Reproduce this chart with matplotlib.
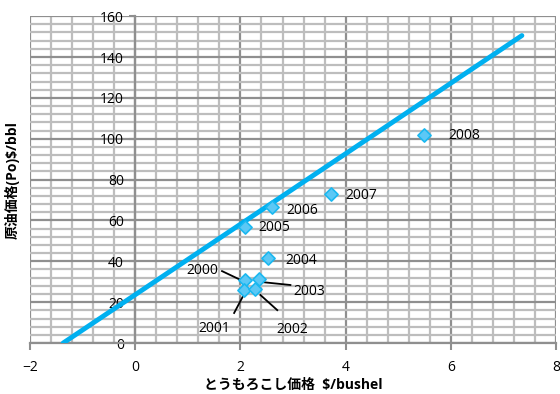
import matplotlib.pyplot as plt
from matplotlib.ticker import MultipleLocator

plt.rcParams['font.family'] = ['Open Sans', 'Noto Sans CJK JP', 'DejaVu Sans']

# Data
years = ['2000', '2001', '2002', '2003', '2004', '2005', '2006', '2007', '2008']
corn = [2.09, 2.07, 2.28, 2.36, 2.53, 2.09, 2.60, 3.73, 5.48]
oil = [31.0, 26.0, 26.5, 31.5, 41.6, 56.8, 66.5, 72.9, 101.8]
fit_x = [-1.37, 7.35]
fit_y = [0.0, 150.5]

# label placement: text x, text y, horizontal alignment
label_pos = {
    '2000': (1.58, 35.5, 'right'), '2001': (1.50, 7.0, 'center'),
    '2002': (2.98, 6.4, 'center'), '2003': (3.00, 25.0, 'left'),
    '2004': (2.85, 40.5, 'left'), '2005': (2.35, 56.5, 'left'),
    '2006': (2.87, 65.0, 'left'), '2007': (4.00, 72.0, 'left'),
    '2008': (5.95, 101.5, 'left'),
}
# leader lines (start near label, end near point)
leaders = {
    '2000': ([1.65, 2.05], [35.2, 30.3]),
    '2001': ([1.88, 2.04], [14.7, 22.5]),
    '2002': ([2.70, 2.38], [16.1, 23.5]),
    '2003': ([2.95, 2.42], [28.4, 29.8]),
}

fig = plt.figure(figsize=(5.6, 3.94), dpi=100)
ax = fig.add_axes([0.0536, 0.1294, 0.9394, 0.8296])

ax.set_xlim(-2, 8)
ax.set_ylim(0, 160)
ax.xaxis.set_major_locator(MultipleLocator(2))
ax.xaxis.set_minor_locator(MultipleLocator(0.4))
ax.yaxis.set_major_locator(MultipleLocator(20))
ax.yaxis.set_minor_locator(MultipleLocator(4))
ax.grid(which='minor', color='#bdbdbd', lw=1.6)
ax.grid(which='major', color='#8f8f8f', lw=1.6)
ax.set_axisbelow(True)

for s in ['top', 'right']:
    ax.spines[s].set_visible(False)
ax.spines['left'].set_position(('data', 0))
for s in ['left', 'bottom']:
    ax.spines[s].set_color('#8f8f8f')
    ax.spines[s].set_linewidth(1.6)
ax.tick_params(axis='x', which='major', length=5, width=1.5, color='#8f8f8f',
               pad=7, labelsize=10)
ax.tick_params(axis='y', which='major', length=4, width=1.5, color='#8f8f8f',
               pad=4, labelsize=10)
ax.tick_params(which='minor', length=0)

ax.plot(fit_x, fit_y, color='#00b0f0', lw=3.5, solid_capstyle='round', zorder=3)
ax.scatter(corn, oil, marker='D', s=45, facecolor='#5cc8f5', edgecolor='#1ab8f0',
           linewidth=1.2, zorder=4)

for yr in leaders:
    lx, ly = leaders[yr]
    ax.plot(lx, ly, color='black', lw=1.3, zorder=3.5)

for yr in years:
    tx, ty, ha = label_pos[yr]
    ax.text(tx, ty, yr, fontsize=10, ha=ha, va='center', zorder=5)

ax.set_xlabel('とうもろこし価格  $/bushel', fontsize=10, fontweight='bold')
ax.xaxis.label.set_va('center')
ax.xaxis.set_label_coords(0.5, -0.128)
ax.set_ylabel('原油価格(Po)$/bbl', fontsize=10, fontweight='bold')
ax.yaxis.label.set_va('center')
ax.yaxis.set_label_coords(-0.034, 0.5)

fig.savefig('out.png', dpi=100)
